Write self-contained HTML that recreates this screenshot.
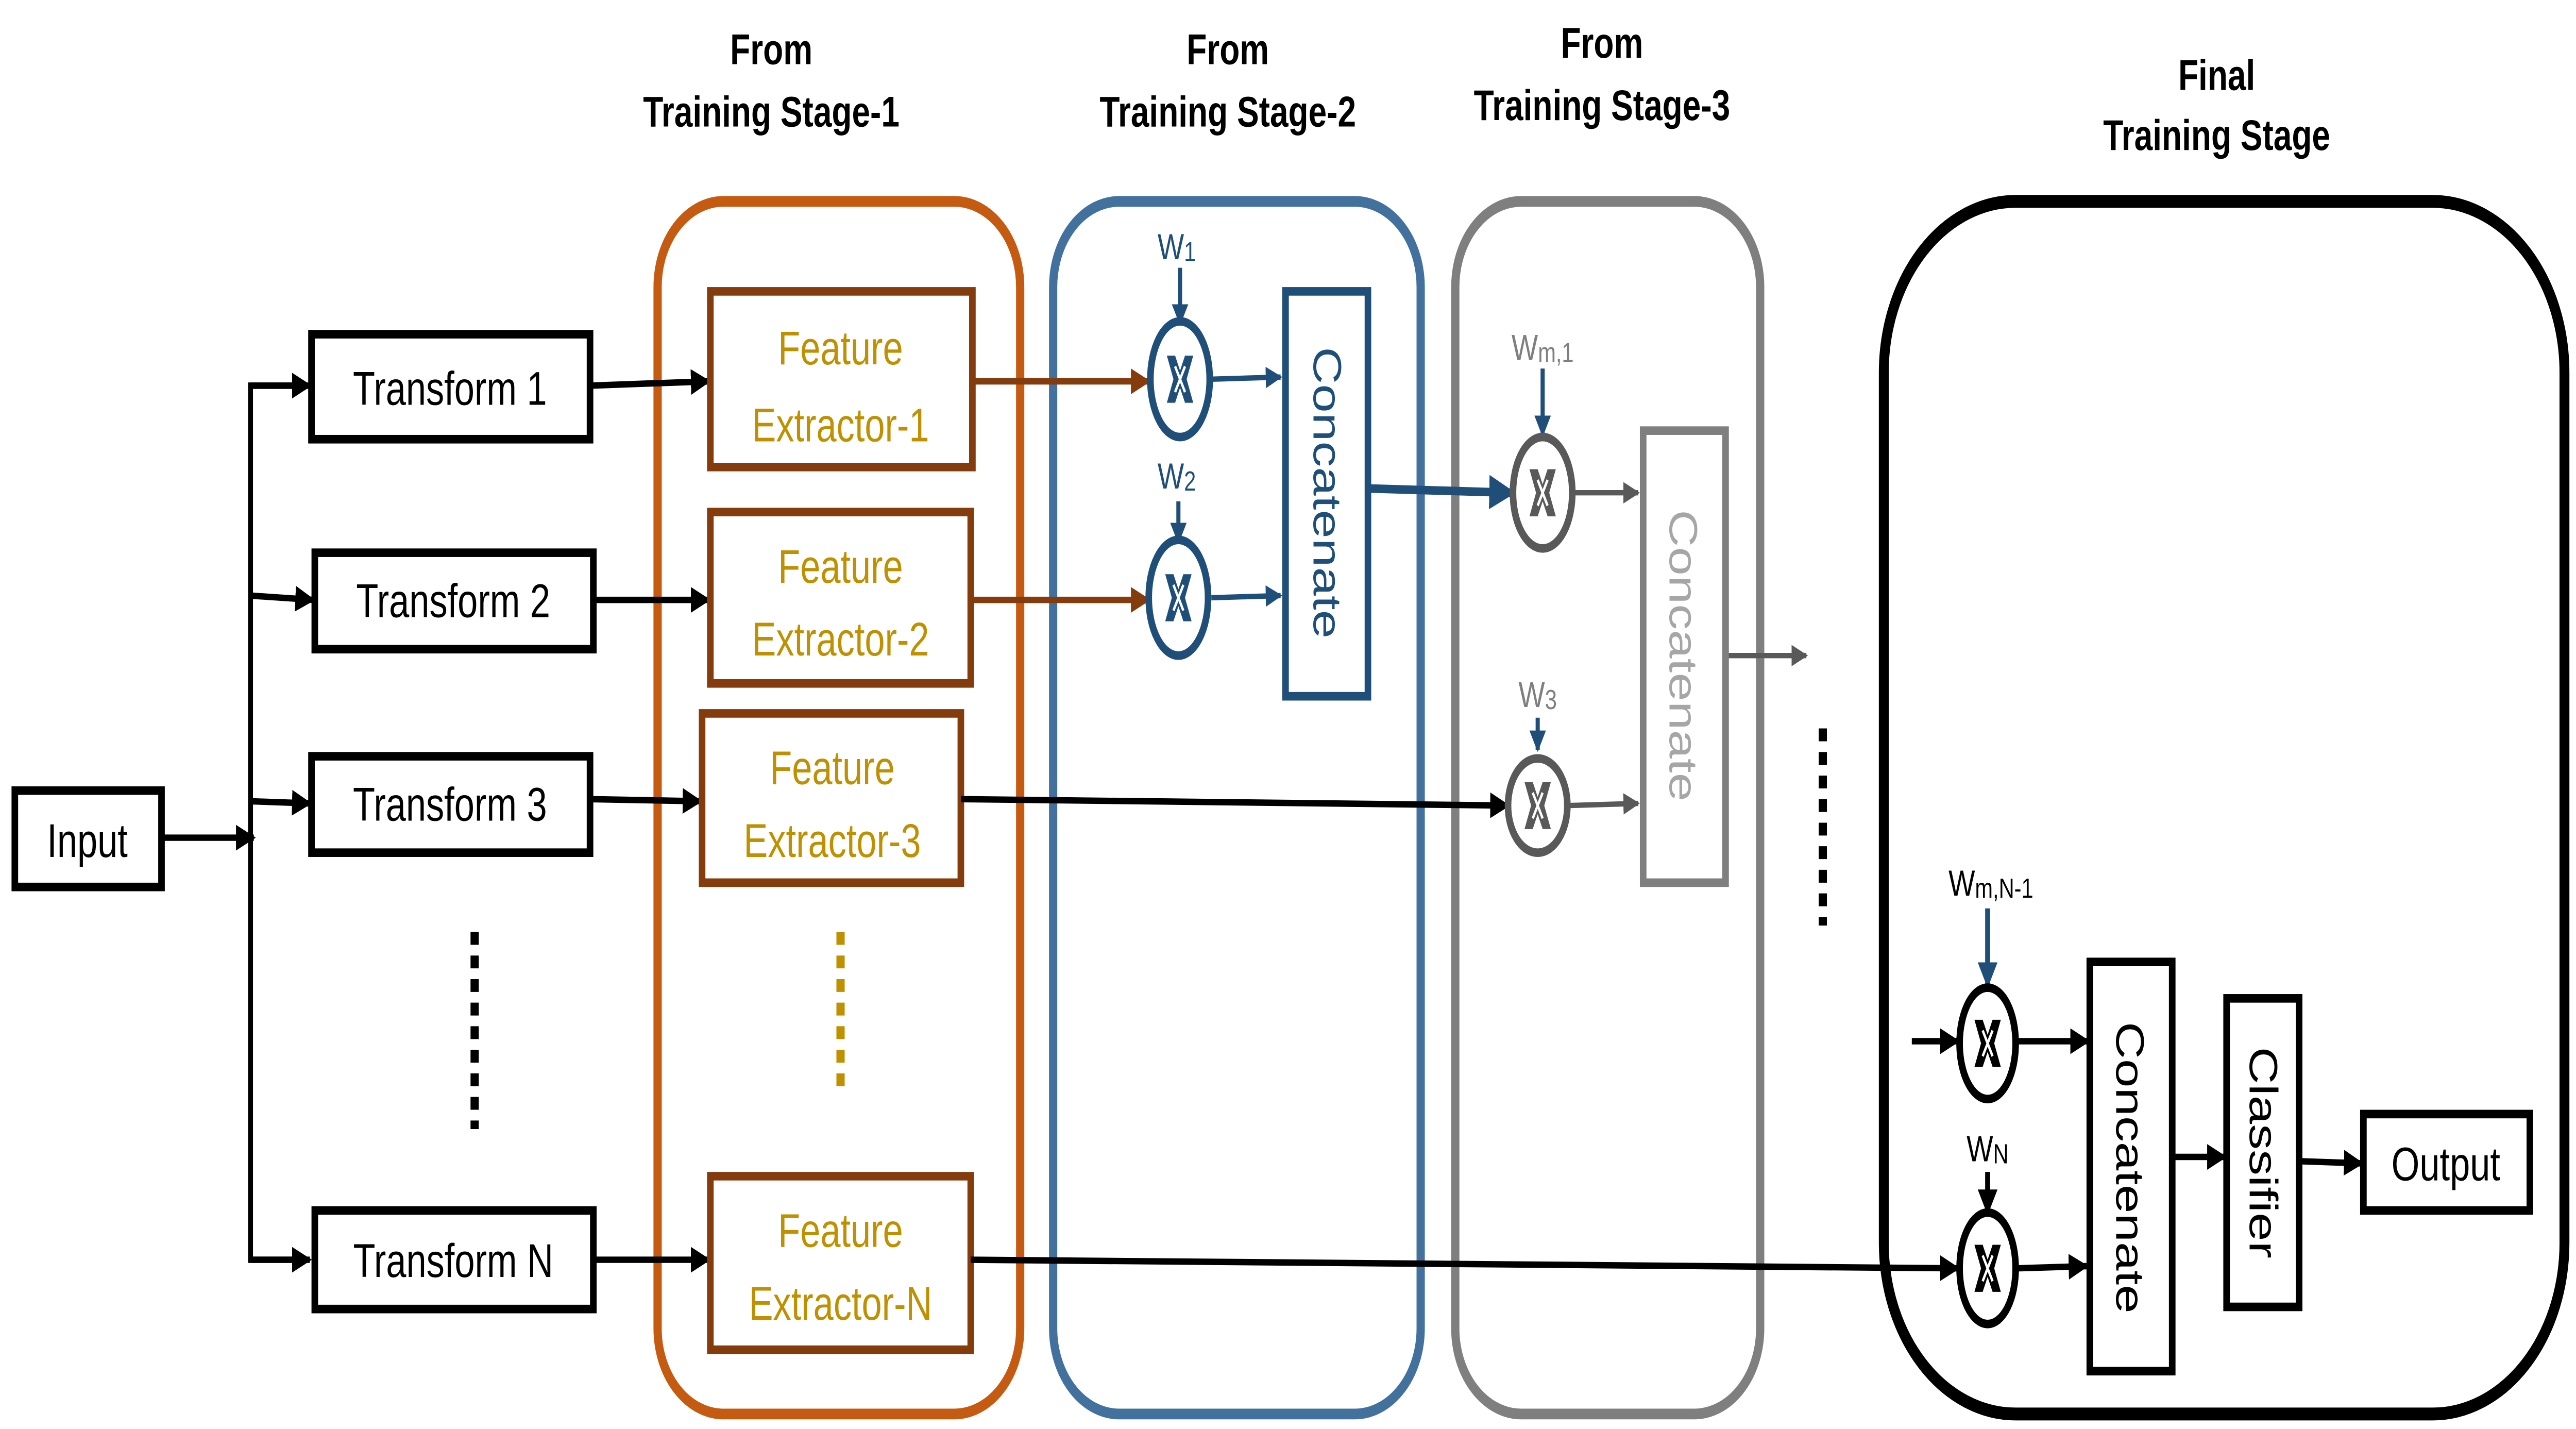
<!DOCTYPE html>
<html><head><meta charset="utf-8"><style>
html,body{margin:0;padding:0;background:#fff;width:100%;height:100%;overflow:hidden}
svg{display:block;position:absolute;left:0;top:0;width:100vw;height:100vh}
text{font-family:"Liberation Sans",sans-serif}
</style></head><body>
<svg viewBox="0 0 1563 667" preserveAspectRatio="none" xmlns="http://www.w3.org/2000/svg">
<defs>
<marker id="ak" markerWidth="4" markerHeight="4" refX="3.6" refY="2" orient="auto" markerUnits="strokeWidth"><path d="M0,0 L4,2 L0,4z" fill="#000"/></marker>
<marker id="ab" markerWidth="4" markerHeight="4" refX="3.6" refY="2" orient="auto" markerUnits="strokeWidth"><path d="M0,0 L4,2 L0,4z" fill="#1f4e79"/></marker>
<marker id="ar" markerWidth="4" markerHeight="4" refX="3.6" refY="2" orient="auto" markerUnits="strokeWidth"><path d="M0,0 L4,2 L0,4z" fill="#843c0c"/></marker>
<marker id="ag" markerWidth="4" markerHeight="4" refX="3.6" refY="2" orient="auto" markerUnits="strokeWidth"><path d="M0,0 L4,2 L0,4z" fill="#595959"/></marker>
<g id="mx"><path d="M-8,-11 L-3,-11 L0,-4 L3,-11 L8,-11 L4,0 L8,11 L3,11 L0,4 L-3,11 L-8,11 L-4,0z" stroke="none"/><path d="M-3,-6 L3,6 M3,-6 L-3,6" stroke="#fff" stroke-width="1.4"/></g>
</defs>

<g font-weight="bold" font-size="20" text-anchor="middle" fill="#000">
<text x="468" y="30">From</text><text x="468" y="59">Training Stage-1</text>
<text x="745" y="30">From</text><text x="745" y="59">Training Stage-2</text>
<text x="972" y="27">From</text><text x="972" y="56">Training Stage-3</text>
<text x="1345" y="42">Final</text><text x="1345" y="70">Training Stage</text>
</g>

<rect x="399" y="94" width="220" height="566" rx="40" fill="none" stroke="#c55a11" stroke-width="5"/>
<rect x="639" y="94" width="223" height="566" rx="40" fill="none" stroke="#41719c" stroke-width="5"/>
<rect x="883" y="94" width="185" height="566" rx="40" fill="none" stroke="#7f7f7f" stroke-width="5"/>
<rect x="1143" y="94" width="413" height="566" rx="80" fill="none" stroke="#000" stroke-width="6"/>

<rect x="9" y="369" width="89" height="45" fill="#fff" stroke="#000" stroke-width="4"/>
<text x="53" y="400" font-size="22" text-anchor="middle">Input</text>
<line x1="98" y1="391" x2="154" y2="391" stroke="#000" stroke-width="3" marker-end="url(#ak)"/>
<polyline points="186,180 152,180 152,588 186,588" fill="none" stroke="#000" stroke-width="3"/>
<g stroke="#000" stroke-width="3">
<line x1="152" y1="180" x2="188" y2="180" marker-end="url(#ak)"/>
<line x1="152" y1="278" x2="190" y2="280" marker-end="url(#ak)"/>
<line x1="152" y1="374" x2="188" y2="375" marker-end="url(#ak)"/>
<line x1="152" y1="588" x2="188" y2="588" marker-end="url(#ak)"/>
</g>

<g fill="#fff" stroke="#000" stroke-width="4">
<rect x="189" y="156" width="169" height="49"/>
<rect x="191" y="258" width="169" height="45"/>
<rect x="189" y="353" width="169" height="45"/>
<rect x="191" y="565" width="169" height="46"/>
</g>
<g font-size="22" text-anchor="middle">
<text x="273" y="189">Transform 1</text>
<text x="275" y="288">Transform 2</text>
<text x="273" y="383">Transform 3</text>
<text x="275" y="596">Transform N</text>
</g>
<line x1="288" y1="435" x2="288" y2="527" stroke="#000" stroke-width="5" stroke-dasharray="6,5"/>

<g stroke="#000" stroke-width="3">
<line x1="358" y1="180" x2="430" y2="178" marker-end="url(#ak)"/>
<line x1="360" y1="280" x2="430" y2="280" marker-end="url(#ak)"/>
<line x1="358" y1="373" x2="425" y2="374" marker-end="url(#ak)"/>
<line x1="360" y1="588" x2="430" y2="588" marker-end="url(#ak)"/>
</g>

<g fill="#fff" stroke="#843c0c" stroke-width="4">
<rect x="431" y="136" width="159" height="82"/>
<rect x="431" y="239" width="158" height="80"/>
<rect x="426" y="333" width="157" height="79"/>
<rect x="431" y="549" width="158" height="81"/>
</g>
<g font-size="22" text-anchor="middle" fill="#bf9000">
<text x="510" y="170">Feature</text><text x="510" y="206">Extractor-1</text>
<text x="510" y="272">Feature</text><text x="510" y="306">Extractor-2</text>
<text x="505" y="366">Feature</text><text x="505" y="400">Extractor-3</text>
<text x="510" y="582">Feature</text><text x="510" y="616">Extractor-N</text>
</g>
<line x1="510" y1="435" x2="510" y2="510" stroke="#bf9000" stroke-width="5" stroke-dasharray="6,5"/>

<g stroke="#843c0c" stroke-width="3">
<line x1="590" y1="178" x2="697" y2="178" marker-end="url(#ar)"/>
<line x1="589" y1="280" x2="697" y2="280" marker-end="url(#ar)"/>
</g>
<g fill="#1f4e79" font-size="17" text-anchor="middle">
<text x="714" y="121">W<tspan font-size="13" dy="1">1</tspan></text>
<text x="714" y="228">W<tspan font-size="13" dy="1">2</tspan></text>
</g>
<g stroke="#1f4e79" stroke-width="2.5">
<line x1="716" y1="125" x2="716" y2="151" marker-end="url(#ab)"/>
<line x1="715" y1="234" x2="715" y2="253" marker-end="url(#ab)"/>
<line x1="735" y1="177" x2="777" y2="176" marker-end="url(#ab)"/>
<line x1="735" y1="279" x2="777" y2="278" marker-end="url(#ab)"/>
</g>
<g fill="#fff" stroke="#1f4e79" stroke-width="4">
<ellipse cx="716" cy="177" rx="18" ry="27"/>
<ellipse cx="715" cy="279" rx="18" ry="27"/>
</g>
<g fill="#1f4e79"><use href="#mx" x="716" y="177"/><use href="#mx" x="715" y="279"/></g>
<rect x="780" y="136" width="50" height="189" fill="#fff" stroke="#1f4e79" stroke-width="4"/>
<text transform="translate(797,230) rotate(90)" font-size="24" text-anchor="middle" fill="#1f4e79">Concatenate</text>
<line x1="830" y1="228" x2="918" y2="230" stroke="#1f4e79" stroke-width="4" marker-end="url(#ab)"/>

<g fill="#7f7f7f" font-size="17" text-anchor="middle">
<text x="936" y="168">W<tspan font-size="13" dy="1">m,1</tspan></text>
<text x="933" y="330">W<tspan font-size="13" dy="1">3</tspan></text>
</g>
<line x1="936" y1="172" x2="936" y2="203" stroke="#1f4e79" stroke-width="2.5" marker-end="url(#ab)"/>
<line x1="933" y1="335" x2="933" y2="350" stroke="#1f4e79" stroke-width="2.5" marker-end="url(#ab)"/>
<line x1="583" y1="373" x2="915" y2="376" stroke="#000" stroke-width="3" marker-end="url(#ak)"/>
<g stroke="#595959" stroke-width="2.5">
<line x1="954" y1="230" x2="994" y2="230" marker-end="url(#ag)"/>
<line x1="951" y1="376" x2="994" y2="375" marker-end="url(#ag)"/>
<line x1="1047" y1="306" x2="1096" y2="306" marker-end="url(#ag)"/>
</g>
<g fill="#fff" stroke="#595959" stroke-width="4">
<ellipse cx="936" cy="230" rx="18" ry="26"/>
<ellipse cx="933" cy="376" rx="18" ry="22"/>
</g>
<g fill="#595959"><use href="#mx" x="936" y="230"/><use href="#mx" x="933" y="376"/></g>
<rect x="997" y="201" width="50" height="211" fill="#fff" stroke="#7f7f7f" stroke-width="4"/>
<text transform="translate(1013,306) rotate(90)" font-size="24" text-anchor="middle" fill="#a6a6a6">Concatenate</text>
<line x1="1106" y1="340" x2="1106" y2="432" stroke="#000" stroke-width="5" stroke-dasharray="6,5"/>

<text x="1208" y="418" font-size="17" text-anchor="middle">W<tspan font-size="13" dy="1">m,N-1</tspan></text>
<text x="1206" y="542" font-size="17" text-anchor="middle">W<tspan font-size="13" dy="1">N</tspan></text>
<line x1="1206" y1="424" x2="1206" y2="460" stroke="#1f4e79" stroke-width="3" marker-end="url(#ab)"/>
<g stroke="#000" stroke-width="3">
<line x1="1206" y1="547" x2="1206" y2="566" marker-end="url(#ak)"/>
<line x1="1160" y1="486" x2="1188" y2="486" marker-end="url(#ak)"/>
<line x1="589" y1="588" x2="1188" y2="592" marker-end="url(#ak)"/>
<line x1="1224" y1="486" x2="1267" y2="486" marker-end="url(#ak)"/>
<line x1="1224" y1="592" x2="1266" y2="591" marker-end="url(#ak)"/>
<line x1="1318" y1="540" x2="1350" y2="540" marker-end="url(#ak)"/>
<line x1="1395" y1="542" x2="1433" y2="543" marker-end="url(#ak)"/>
</g>
<g fill="#fff" stroke="#000" stroke-width="4">
<ellipse cx="1206" cy="487" rx="17" ry="26"/>
<ellipse cx="1206" cy="592" rx="17" ry="26"/>
</g>
<g fill="#000"><use href="#mx" x="1206" y="487"/><use href="#mx" x="1206" y="592"/></g>
<g fill="#fff" stroke="#000" stroke-width="4">
<rect x="1268" y="449" width="50" height="191"/>
<rect x="1351" y="466" width="44" height="144"/>
<rect x="1434" y="520" width="101" height="45"/>
</g>
<text transform="translate(1284,545) rotate(90)" font-size="24" text-anchor="middle">Concatenate</text>
<text transform="translate(1365,538) rotate(90)" font-size="24" text-anchor="middle">Classifier</text>
<text x="1484" y="551" font-size="22" text-anchor="middle">Output</text>
</svg>
</body></html>
